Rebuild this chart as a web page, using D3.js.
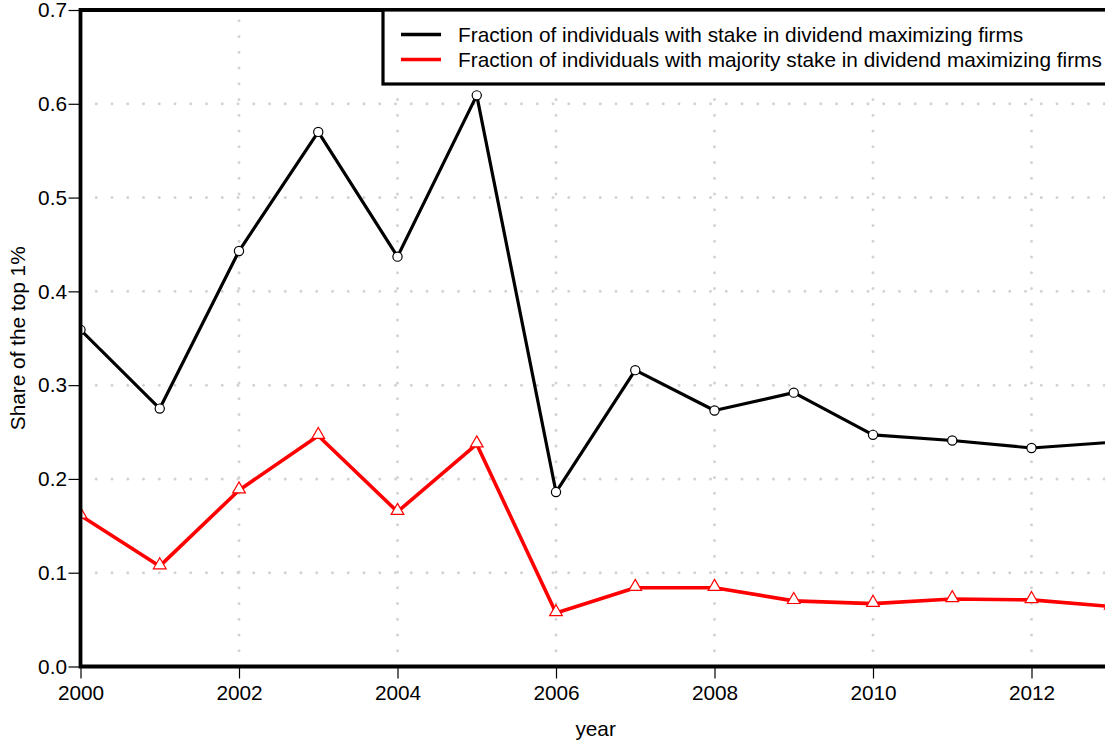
<!DOCTYPE html>
<html><head><meta charset="utf-8">
<script src="https://cdn.jsdelivr.net/npm/d3@7/dist/d3.min.js"></script>
<style>
html,body{margin:0;padding:0;background:#fff;overflow:hidden;}
text{font-family:"Liberation Sans",Arial,Helvetica,sans-serif;fill:#000;}
</style></head>
<body>
<svg id="chart" width="1105" height="745"></svg>
<script>
const years = [2000,2001,2002,2003,2004,2005,2006,2007,2008,2009,2010,2011,2012,2013];
const stakeAny = [0.359,0.275,0.443,0.570,0.437,0.609,0.186,0.316,0.273,0.292,0.247,0.241,0.233,0.239];
const stakeMajority = [0.161,0.107,0.188,0.246,0.165,0.237,0.057,0.084,0.084,0.070,0.067,0.072,0.071,0.064];
const xTicks = [2000,2002,2004,2006,2008,2010,2012];
const yTicks = [0.0,0.1,0.2,0.3,0.4,0.5,0.6,0.7];
const seriesNames = ["Fraction of individuals with stake in dividend maximizing firms",
                     "Fraction of individuals with majority stake in dividend maximizing firms"];
const seriesColors = ["#000000","#ff0000"];

const svg = d3.select("#chart");
const L = 80.5, R = 1110.75, T = 10, B = 666.5;
const x = d3.scaleLinear().domain([2000,2013]).range([L,R]);
const y = d3.scaleLinear().domain([0,0.7]).range([B,T]);
const FS = 20.8;

svg.append("defs").append("clipPath").attr("id","clip")
  .append("rect").attr("x",L).attr("y",T).attr("width",R-L).attr("height",B-T);

// grid
const grid = svg.append("g").attr("stroke","#d3d3d3").attr("stroke-width",3)
  .attr("stroke-dasharray","0 15.75").attr("stroke-linecap","round");
yTicks.filter(v=>v>0 && v<0.7).forEach(v=>{
  grid.append("line").attr("x1",L).attr("x2",R).attr("y1",y(v)).attr("y2",y(v));
});
xTicks.filter(v=>v>2000).forEach(v=>{
  grid.append("line").attr("x1",x(v)).attr("x2",x(v)).attr("y1",B).attr("y2",T);
});

// series
const data = [stakeAny, stakeMajority];
const plot = svg.append("g").attr("clip-path","url(#clip)");
const line = d3.line().x((d,i)=>x(years[i])).y(d=>y(d));
data.forEach((vals,k)=>{
  plot.append("path").datum(vals).attr("d",line).attr("fill","none")
    .attr("stroke",seriesColors[k]).attr("stroke-width",k===0?3.2:3.6)
    .attr("stroke-linejoin","round");
});
// markers
plot.selectAll("circle.m").data(stakeAny).join("circle")
  .attr("cx",(d,i)=>x(years[i])).attr("cy",d=>y(d)).attr("r",4.6)
  .attr("fill","#fff").attr("stroke","#000").attr("stroke-width",1.2);
const tri = d3.symbol().type(d3.symbolTriangle).size(70);
plot.selectAll("path.t").data(stakeMajority).join("path")
  .attr("transform",(d,i)=>`translate(${x(years[i])},${y(d)-1})`)
  .attr("d",tri).attr("fill","#fff").attr("stroke","#ff0000").attr("stroke-width",1.2);

// axes
const yAxis = svg.append("g").attr("transform",`translate(${L},0)`)
  .call(d3.axisLeft(y).tickValues(yTicks).tickFormat(d3.format(".1f")).tickSize(12).tickPadding(1.5));
const xAxis = svg.append("g").attr("transform",`translate(0,${B})`)
  .call(d3.axisBottom(x).tickValues(xTicks).tickFormat(d3.format("d")).tickSize(12).tickPadding(6.5));
[yAxis,xAxis].forEach(a=>{
  a.attr("font-size",FS).attr("font-family","Liberation Sans, Arial, sans-serif");
  a.select(".domain").remove();
  a.selectAll(".tick line").attr("stroke","#000").attr("stroke-width",1.2);
  a.selectAll(".tick text").attr("fill","#000");
});

// box
svg.append("path").attr("d",`M${R+10},${T}H${L}V${B}H${R+10}`).attr("fill","none")
  .attr("stroke","#000").attr("stroke-width",3.8);

// axis titles
svg.append("text").attr("x",(L+R)/2).attr("y",736).attr("text-anchor","middle")
  .attr("font-size",FS).text("year");
svg.append("text").attr("transform",`translate(25,${(T+B)/2}) rotate(-90)`)
  .attr("text-anchor","middle").attr("font-size",FS).text("Share of the top 1%");

// legend
const lg = svg.append("g");
lg.append("rect").attr("x",383).attr("y",T).attr("width",760).attr("height",74)
  .attr("fill","#fff").attr("stroke","#000").attr("stroke-width",3.2);
seriesNames.forEach((n,k)=>{
  const yy = 34.5 + k*25;
  lg.append("line").attr("x1",401).attr("x2",441).attr("y1",yy).attr("y2",yy)
    .attr("stroke",seriesColors[k]).attr("stroke-width",3.4);
  lg.append("text").attr("x",458).attr("y",yy).attr("dy","0.35em")
    .attr("font-size",FS).text(n);
});
</script>
</body></html>
